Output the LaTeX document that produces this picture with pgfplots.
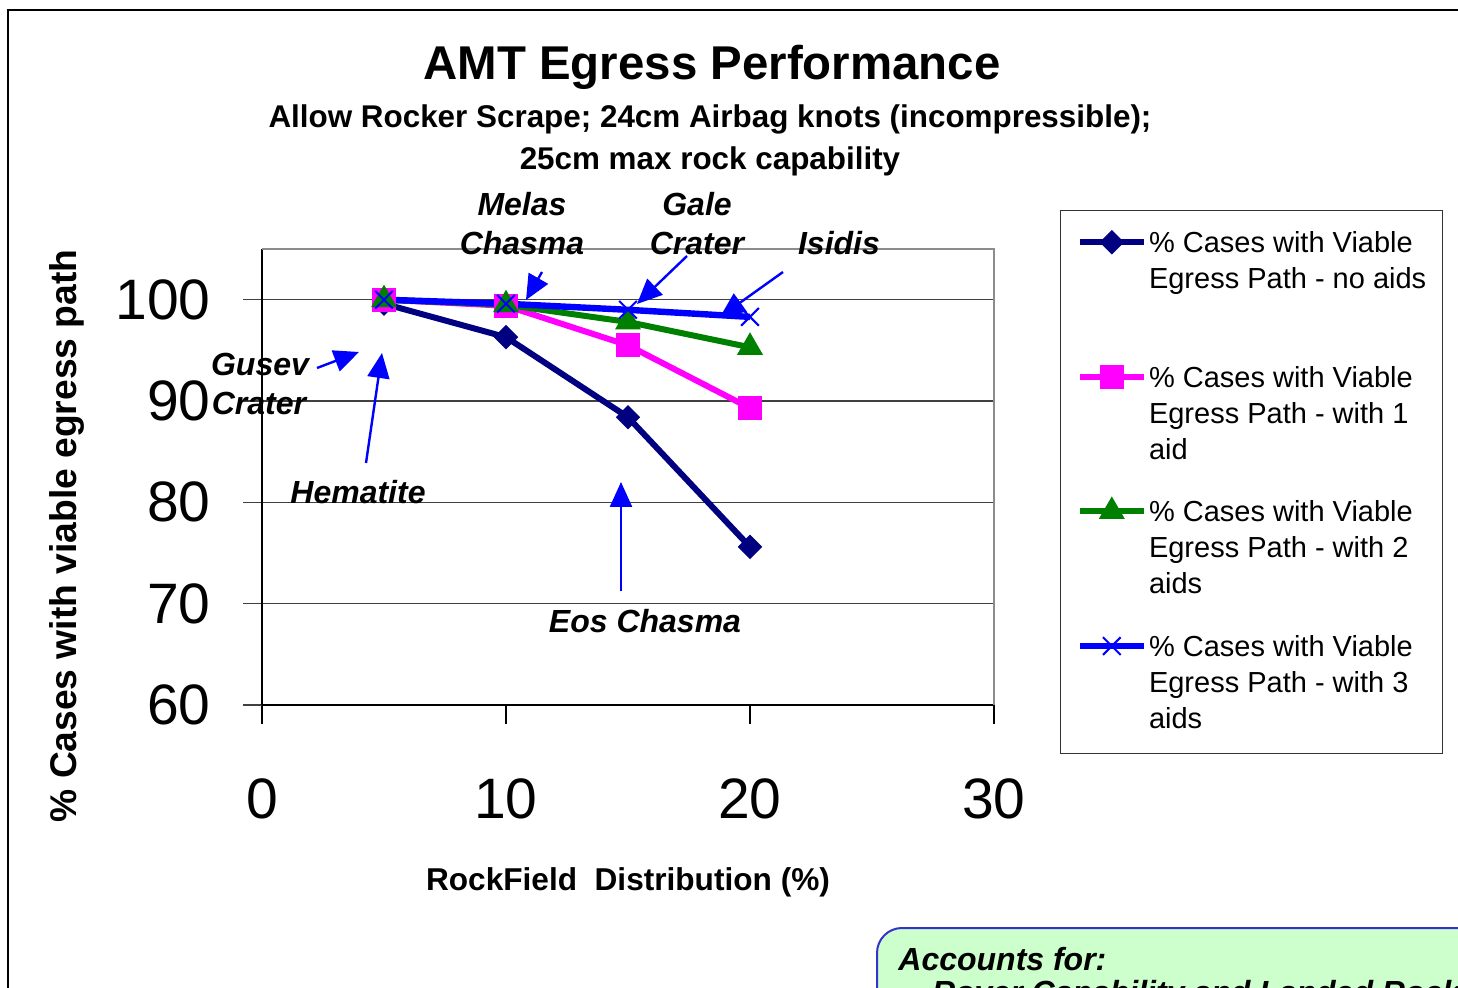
\documentclass[border=0pt]{standalone}
\usepackage{fontspec}
\setmainfont{Liberation Sans}
\usepackage{pgfplots}
\pgfplotsset{compat=1.18}
\usetikzlibrary{arrows.meta}

\definecolor{sNavy}{RGB}{0,0,128}
\definecolor{sMagenta}{RGB}{255,0,255}
\definecolor{sGreen}{RGB}{0,128,0}
\definecolor{sBlue}{RGB}{0,0,255}
\definecolor{boxGreen}{RGB}{204,255,204}
\definecolor{boxBlue}{RGB}{51,51,204}

\newcommand{\fsz}[2]{\fontsize{#1}{#2}\selectfont}
\newcommand{\lgtext}[1]{\begin{tabular}[t]{@{}l@{}}#1\end{tabular}}

% legend sample: line at the first text line, fixed row depth
\pgfplotsset{
  lgimg/.style={legend image code/.code={\path[draw=none,fill=none] (0pt,14pt) -- (0pt,-#1);
    \draw[mark repeat=2,mark phase=2,##1]
    plot coordinates {(0pt,5.2pt) (16pt,5.2pt) (32pt,5.2pt)};}},
}

\begin{document}
\begin{tikzpicture}[x=0.5pt,y=0.5pt]
\useasboundingbox (0,0) rectangle (1458,987);
\clip (0,0) rectangle (1458,987);
% slide frame
\draw[line width=1pt] (8,-10) -- (8,977) -- (1470,977);

\begin{axis}[
  at={(131pt,141pt)}, anchor=south west,
  scale only axis, width=366pt, height=228pt,
  xmin=0, xmax=30, ymin=60, ymax=105,
  xtick={0,10,20,30}, ytick={60,70,80,90,100},
  axis lines=left, axis line style={-, line width=0.9pt, black},
  tick align=outside, major tick length=9.5pt,
  xtick style={draw=black, line width=0.7pt},
  ytick style={draw=black!75, line width=0.6pt},
  ymajorgrids, major grid style={draw=black!75, line width=0.6pt},
  tick label style={font=\fsz{28.5}{30}},
  /pgf/number format/assume math mode=true,
  yticklabel style={anchor=east, inner sep=0pt, xshift=-16pt},
  xticklabel style={anchor=north, inner sep=0pt, yshift=-27pt},
  xlabel={RockField\ \ Distribution (\%)},
  xlabel style={at={(axis description cs:0.5,-0.4057)}, anchor=base, font=\bfseries\fsz{15.8}{18}},
  ylabel={\% Cases with viable egress path},
  ylabel style={at={(axis description cs:-0.254,0.3706)}, anchor=base, font=\bfseries\fsz{18.6}{20}},
  clip=false,
  legend cell align=left,
  legend style={at={(axis description cs:1.0902,1.0855)}, anchor=north west,
    draw=black!80, line width=0.6pt, inner xsep=8pt, inner ysep=7pt,
    font=\fsz{14.5}{18}, cells={anchor=base west}, column sep=1pt,
    nodes={inner sep=0pt}},
  lgimg=53.3pt,
]
\addplot[sNavy, line width=3pt, mark=square*, mark size=4.07pt,
  mark options={rotate=45, line width=0.5pt}]
  coordinates {(5,99.6) (10,96.3) (15,88.4) (20,75.6)};
\addlegendentry{\lgtext{\% Cases with Viable\\Egress Path - no aids}}
\addplot[sMagenta, line width=3pt, mark=square*, mark size=5.75pt,
  mark options={line width=0.5pt}]
  coordinates {(5,100) (10,99.4) (15,95.5) (20,89.3)};
\addlegendentry{\lgtext{\% Cases with Viable\\Egress Path - with 1\\aid}}
\addplot[sGreen, line width=3pt, mark=triangle*, mark size=7pt,
  mark options={line width=0.5pt}]
  coordinates {(5,100) (10,99.5) (15,97.8) (20,95.3)};
\addlegendentry{\lgtext{\% Cases with Viable\\Egress Path - with 2\\aids}}
\addplot[sBlue, line width=3.2pt, mark=x, mark size=6.25pt,
  mark options={line width=1pt}, lgimg=41.5pt]
  coordinates {(5,100) (10,99.6) (15,99.0) (20,98.3)};
\addlegendentry{\lgtext{\% Cases with Viable\\Egress Path - with 3\\aids}}
\draw[black!45, line width=0.8pt] (rel axis cs:0,1) -- (rel axis cs:1,1) -- (rel axis cs:1,0);
\end{axis}

% titles
\node[anchor=base, font=\bfseries\fsz{23.7}{26}] at (712,907) {AMT Egress Performance};
\node[anchor=base, font=\bfseries\fsz{15.7}{18}] at (710,859) {Allow Rocker Scrape; 24cm Airbag knots (incompressible);};
\node[anchor=base, font=\bfseries\fsz{15.7}{18}] at (710,817) {25cm max rock capability};

% site annotations
\begin{scope}[every node/.style={anchor=base, font=\bfseries\itshape\fsz{16}{18}}]
\node at (522,771) {Melas};
\node at (522,732) {Chasma};
\node at (697,771) {Gale};
\node at (697,732) {Crater};
\node at (839,732) {Isidis};
\node at (260,611) {Gusev};
\node at (259,572) {Crater};
\node at (358,483) {Hematite};
\node at (645,355) {Eos Chasma};
\end{scope}
\begin{scope}[sBlue, line width=1.2pt, -{Triangle[length=12.5pt,width=11pt]}]
\draw (542,715) -- (526,687);
\draw (687,731) -- (637,683);
\draw (783,715) -- (720,670);
\draw (317,619) -- (359,635);
\draw (366,524) -- (382,634);
\draw (621,396) -- (621,505);
\end{scope}

% note box, cut by the slide edge
\draw[draw=boxBlue, line width=1pt, fill=boxGreen, rounded corners=12.5pt]
  (877,59) rectangle (1540,-80);
\node[anchor=base west, inner sep=0pt, font=\bfseries\itshape\fsz{16}{18}] at (898,17) {Accounts for:};
\node[anchor=base west, inner sep=0pt, font=\bfseries\itshape\fsz{16}{18}] at (905,-16) {-- Rover Capability and Landed Rock Hazards};
\end{tikzpicture}
\end{document}
